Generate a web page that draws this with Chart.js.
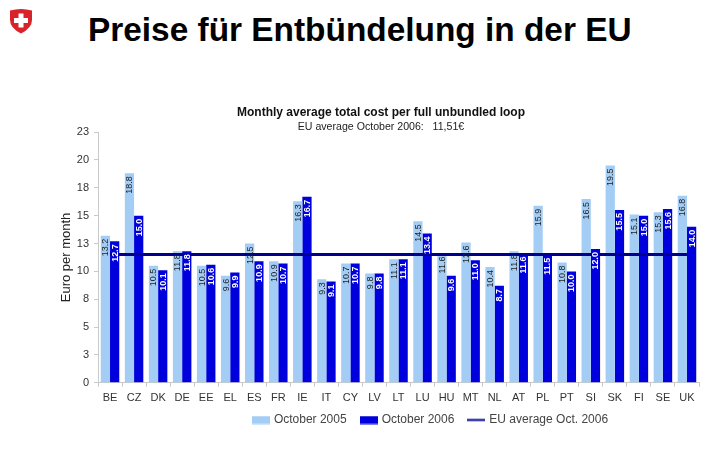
<!DOCTYPE html>
<html>
<head>
<meta charset="utf-8">
<script src="https://cdn.jsdelivr.net/npm/chart.js@4"></script>
<style>
  html, body { margin: 0; padding: 0; background: #fff; }
  #wrap { position: relative; width: 710px; height: 453px; overflow: hidden; }
  #chart { position: absolute; left: 0; top: 0; }
  h1 { position: absolute; left: 88px; top: 11px; margin: 0; font: bold 33.4px "Liberation Sans", Arial, sans-serif; color: #000; white-space: nowrap; }
  #wappen { position: absolute; left: 9px; top: 8px; }
</style>
</head>
<body>
<div id="wrap">
  <svg id="wappen" width="24" height="26" viewBox="0 0 24 26">
    <path d="M1 2.5 Q12 -0.5 23 2.5 L23 12 Q23 20 12 25.5 Q1 20 1 12 Z" fill="#d8232a"/>
    <rect x="9.5" y="5.5" width="5" height="14" fill="#fff"/>
    <rect x="5" y="10" width="14" height="5" fill="#fff"/>
  </svg>
  <h1>Preise für Entbündelung in der EU</h1>
  <canvas id="chart" width="710" height="453"></canvas>
</div>
<script>
const laender = ['BE','CZ','DK','DE','EE','EL','ES','FR','IE','IT','CY','LV','LT','LU','HU','MT','NL','AT','PL','PT','SI','SK','FI','SE','UK'];
const oktober2005 = [13.2,18.8,10.5,11.8,10.5,9.6,12.5,10.9,16.3,9.3,10.7,9.8,11.1,14.5,11.6,12.6,10.4,11.8,15.9,10.8,16.5,19.5,15.1,15.3,16.8];
const oktober2006 = [12.7,15.0,10.1,11.8,10.6,9.9,10.9,10.7,16.7,9.1,10.7,9.8,11.1,13.4,9.6,11.0,8.7,11.6,11.5,10.0,12.0,15.5,15.0,15.6,14.0];
const euSchnitt = [11.51,11.51,11.51,11.51,11.51,11.51,11.51,11.51,11.51,11.51,11.51,11.51,11.51,11.51,11.51,11.51,11.51,11.51,11.51,11.51,11.51,11.51,11.51,11.51,11.51];
const yLabels = ['0','3','5','8','10','13','15','18','20','23'];

const HELL = '#a3cdf5', DUNKEL = '#0000dc', LINIE = '#00008f';
const FONT = '"Liberation Sans", Arial, sans-serif';

// kleines Bild fuer die Legende, damit Balken breit und flach bleiben
function legendenBild(farbe, w, h) {
  const c = document.createElement('canvas');
  c.width = w; c.height = 9;
  const ctx = c.getContext('2d');
  ctx.fillStyle = farbe;
  ctx.fillRect(0, (9 - h) / 2, w, h);
  return c;
}

// Werte senkrecht in die Balken schreiben
const wertePlugin = {
  id: 'werte',
  afterDatasetsDraw(chart) {
    const ctx = chart.ctx;
    [0, 1].forEach(i => {
      chart.getDatasetMeta(i).data.forEach((bar, k) => {
        const wert = chart.data.datasets[i].data[k];
        ctx.save();
        ctx.translate(bar.x, bar.y + 3);
        ctx.rotate(-Math.PI / 2);
        ctx.textAlign = 'right';
        ctx.textBaseline = 'middle';
        ctx.font = (i === 1 ? 'bold ' : '') + '9px ' + FONT;
        ctx.fillStyle = i === 1 ? '#fff' : '#222';
        ctx.fillText(wert.toFixed(1), 0, 0.5);
        ctx.restore();
      });
    });
  }
};

// Titel und Legende sitzen im Original nicht da, wo das Layout sie hinlegt
function verschieben(chart, richtung) {
  chart.boxes.forEach(box => {
    const istTitel = box.options && box.options.text;
    const dx = istTitel ? 2 : box === chart.legend ? 52 : 0;
    const dy = istTitel ? 5 : box === chart.legend ? -11 : 0;
    box.left += dx * richtung;
    box.right += dx * richtung;
    box.top += dy * richtung;
    box.bottom += dy * richtung;
  });
}
const versatzPlugin = {
  id: 'versatz',
  beforeDraw(chart) { verschieben(chart, 1); },
  afterDraw(chart) { verschieben(chart, -1); }
};

new Chart(document.getElementById('chart'), {
  data: {
    labels: laender,
    datasets: [
      { type: 'bar', label: 'October 2005', data: oktober2005, backgroundColor: HELL, order: 2, categoryPercentage: 0.77, barPercentage: 1 },
      { type: 'bar', label: 'October 2006', data: oktober2006, backgroundColor: DUNKEL, order: 2, categoryPercentage: 0.77, barPercentage: 1 },
      { type: 'line', label: 'EU average Oct. 2006', data: euSchnitt, borderColor: LINIE, borderWidth: 3, pointRadius: 0, order: 1 }
    ]
  },
  plugins: [wertePlugin, versatzPlugin],
  options: {
    responsive: false,
    animation: false,
    layout: { padding: { top: 100, right: 11, bottom: 6, left: 59 } },
    scales: {
      x: {
        grid: { drawOnChartArea: false, color: '#c9c9c9', tickLength: 4 },
        border: { color: '#c9c9c9' },
        ticks: { color: '#333', font: { family: FONT, size: 11 }, maxRotation: 0, autoSkip: false, padding: 5 }
      },
      y: {
        min: 0, max: 22.5,
        afterFit(scale) { scale.width = 39; },
        grid: { drawOnChartArea: false, color: '#c9c9c9', tickLength: 4 },
        border: { color: '#c9c9c9' },
        title: { display: true, text: 'Euro per month', color: '#222', font: { family: FONT, size: 13 }, padding: 0 },
        ticks: {
          stepSize: 2.5, color: '#333', padding: 5, font: { family: FONT, size: 11 },
          callback(v, i) { return yLabels[i]; }
        }
      }
    },
    plugins: {
      title: { display: true, text: 'Monthly average total cost per full unbundled loop', color: '#111', font: { family: FONT, size: 12, weight: 'bold' }, padding: 0 },
      subtitle: { display: true, text: 'EU average October 2006:   11,51€', color: '#222', font: { family: FONT, size: 10.6 }, padding: { top: 1, bottom: 4 } },
      tooltip: { enabled: false },
      legend: {
        position: 'bottom',
        labels: {
          usePointStyle: true, pointStyleWidth: 14, padding: 15, color: '#444',
          font: { family: FONT, size: 12 },
          generateLabels(chart) {
            return chart.data.datasets.map((d, i) => ({
              text: d.label,
              fontColor: '#444',
              datasetIndex: i,
              pointStyle: i === 0 ? legendenBild(HELL, 18, 8) : i === 1 ? legendenBild(DUNKEL, 18, 8) : legendenBild(LINIE, 18, 2)
            }));
          }
        }
      }
    }
  }
});
</script>
</body>
</html>
